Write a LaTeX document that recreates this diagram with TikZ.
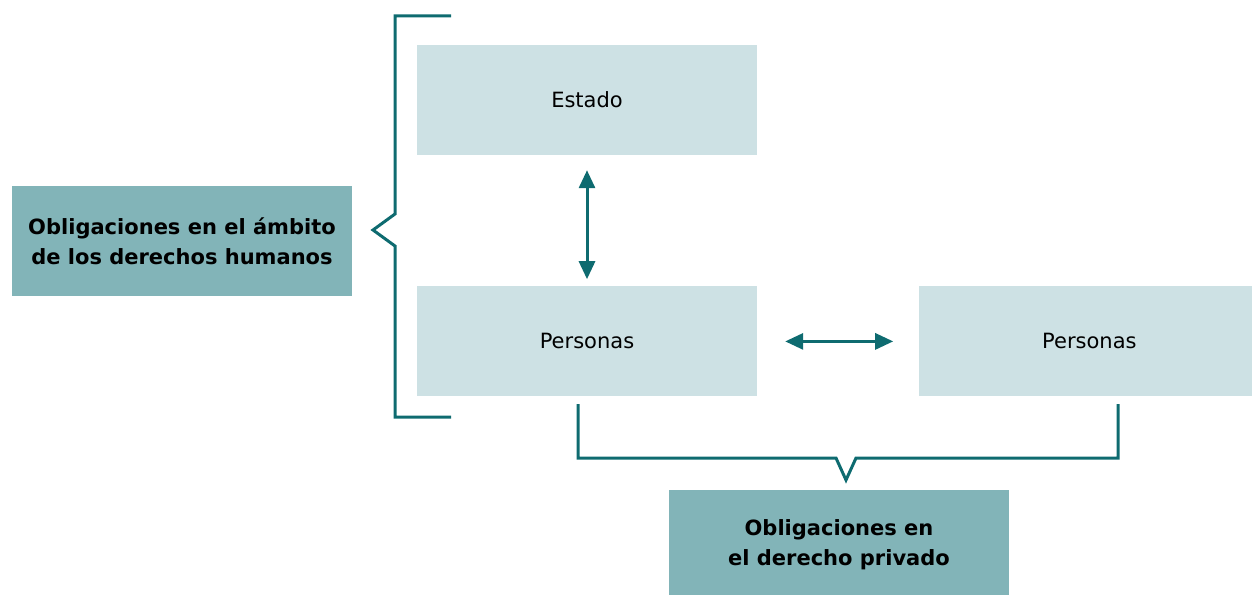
\documentclass[tikz,border=0pt]{standalone}
\usepackage{fontspec}
\setmainfont{DejaVu Sans}
\usetikzlibrary{arrows.meta,positioning}

\definecolor{boxlight}{HTML}{CDE1E4}
\definecolor{boxdark}{HTML}{82B4B8}
\definecolor{linkteal}{HTML}{0E6B70}

\tikzset{
  light/.style={fill=boxlight, minimum width=340pt, minimum height=110pt, inner sep=0pt,
    font=\fontsize{21}{30}\selectfont},
  dark/.style={fill=boxdark, minimum width=340pt, minimum height=110pt, inner sep=0pt,
    align=center, font=\fontsize{21}{30}\selectfont\bfseries},
  link/.style={draw=linkteal, line width=3pt,
    {Triangle[width=16pt,length=18pt]}-{Triangle[width=16pt,length=18pt]}},
  brace/.style={draw=linkteal, line width=3pt}
}

\begin{document}
\begin{tikzpicture}[x=1pt,y=-1pt]
  \useasboundingbox (0,0) rectangle (1252,594);

  \node[light] (estado) at (587,100) {Estado};
  \node[light, below=131pt of estado] (pers1) {Personas};
  \node[light, right=162pt of pers1] (pers2) {Personas};

  \node[dark] (dh) at (182,241) {Obligaciones en el ámbito\\de los derechos humanos};
  \node[dark] (dp) at (839,545) {Obligaciones en\\el derecho privado};

  \draw[link] ([yshift=-15pt]estado.south) -- ([yshift=7pt]pers1.north);
  \draw[link] ([xshift=28pt]pers1.east) -- ([xshift=-26pt]pers2.west);

  % brackets
  \draw[brace] (451,16) -- (395,16) -- (395,214) -- (373,230) -- (395,246) -- (395,417) -- (451,417);
  \draw[brace] (578,404) -- (578,458) -- (836,458) -- (846,480) -- (856,458) -- (1118,458) -- (1118,404);
\end{tikzpicture}
\end{document}
